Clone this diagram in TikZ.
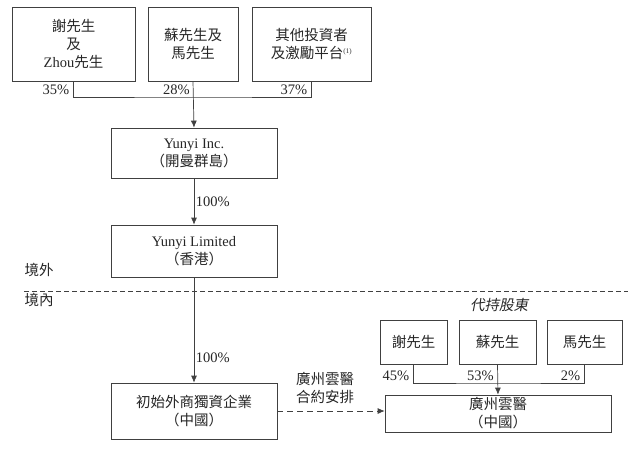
\documentclass[tikz,border=0pt]{standalone}
\usepackage{fontspec}
\setmainfont{Liberation Serif}
\newfontfamily\cjk{Noto Sans CJK TC}
\newfontfamily\cjkit[FakeSlant=0.2]{Noto Sans CJK TC}
\usetikzlibrary{positioning,arrows.meta}

\begin{document}
\begin{tikzpicture}[%
	x=1pt, y=-1pt,
	>={Latex[length=7pt,width=6pt]}, font=\fontsize{14.5}{18}\selectfont,
	line width=0.7pt, align=center,
	entity/.style={draw=black!75, text=black!85, inner sep=0pt},
	pct/.style={inner sep=1.5pt, xshift=-2.5pt, text=black!85},
	link/.style={draw=black!75}
	]
	\useasboundingbox (0,0) rectangle (640,448);
	
	% shareholders
	\node[entity, minimum width=123pt, minimum height=74pt] (A) at (73.5,44) {{\cjk 謝先生}\\{\cjk 及}\\Zhou{\cjk 先生}};
	
	\node[entity, minimum width=90pt, minimum height=74pt] (B) at (193,44) {\cjk 蘇先生及\\\cjk 馬先生};
	
	\node[entity, minimum width=119pt, minimum height=74pt] (C) at (311.5,44) {\cjk 其他投資者\\{\cjk 及激勵平台}\textsuperscript{\scriptsize(1)}};
	
	% offshore
	\node[entity, minimum width=166pt, minimum height=50pt] (inc) at (194,153) {Yunyi Inc.\\\cjk （開曼群島）};
	
	\node[entity, minimum width=166pt, minimum height=52pt] (ltd) at (194,251) {Yunyi Limited\\\cjk （香港）};
	
	% onshore
	\node[entity, minimum width=166pt, minimum height=56pt] (wfoe) at (194,411) {\cjk 初始外商獨資企業\\\cjk （中國）};
	
	\node[entity, minimum width=226pt, minimum height=37pt] (gz) at (498,413.5) {\cjk 廣州雲醫\\\cjk （中國）};
	
	\node[text=black!85, inner sep=0pt] (nominee) at (499,305) {\cjkit 代持股東};
	
	\node[entity, minimum width=67pt, minimum height=44pt] (x1) at (413.5,342) {\cjk 謝先生};
	\node[entity, minimum width=77pt, minimum height=44pt] (x2) at (497.5,342) {\cjk 蘇先生};
	\node[entity, minimum width=75pt, minimum height=44pt] (x3) at (584.5,342) {\cjk 馬先生};
	
	% border line
	\coordinate (w) at (24,291);
	\coordinate (e) at (628,291);
	\draw[link, dash pattern=on 5pt off 3pt] (w) -- (e);
	\node[text=black!85, inner sep=0pt] (out) at (39,270) {\cjk 境外};
	\node[text=black!85, inner sep=0pt] (in) at (39,300) {\cjk 境內};
	
	% links
	\coordinate (top) at (194,97);
	\coordinate (bot) at (498,383);
	\draw[link] (A.south) |- (top) -| (C.south);
	\draw[link, ->] (B.south) -- (inc.north);
	\node[pct, anchor=south east] (p35) at (A.south |- top) {35\%};
	\node[pct, anchor=south east] (p28) at (top) {28\%};
	\node[pct, anchor=south east] (p37) at (C.south |- top) {37\%};
	
	\path (inc) edge[link, ->] node[pct, right, xshift=2.5pt] (p100a) {100\%} (ltd)
	(ltd) edge[link, ->] node[pct, right, xshift=2.5pt, pos=0.76] (p100b) {100\%} (wfoe);
	
	\draw[link, dash pattern=on 6pt off 4pt, ->] (wfoe.east) -- node[above, yshift=7pt, xshift=-6pt, text=black!85, inner sep=0pt] (vie) {\cjk 廣州雲醫\\\cjk 合約安排} (wfoe.east -| gz.west);
	
	\draw[link] (x1.south) |- (bot) -| (x3.south);
	\draw[link, ->] (x2.south) -- (gz.north);
	\node[pct, anchor=south east] (p45) at (x1.south |- bot) {45\%};
	\node[pct, anchor=south east] (p53) at (bot) {53\%};
	\node[pct, anchor=south east] (p2) at (x3.south |- bot) {2\%};
	
\end{tikzpicture}
\end{document}
